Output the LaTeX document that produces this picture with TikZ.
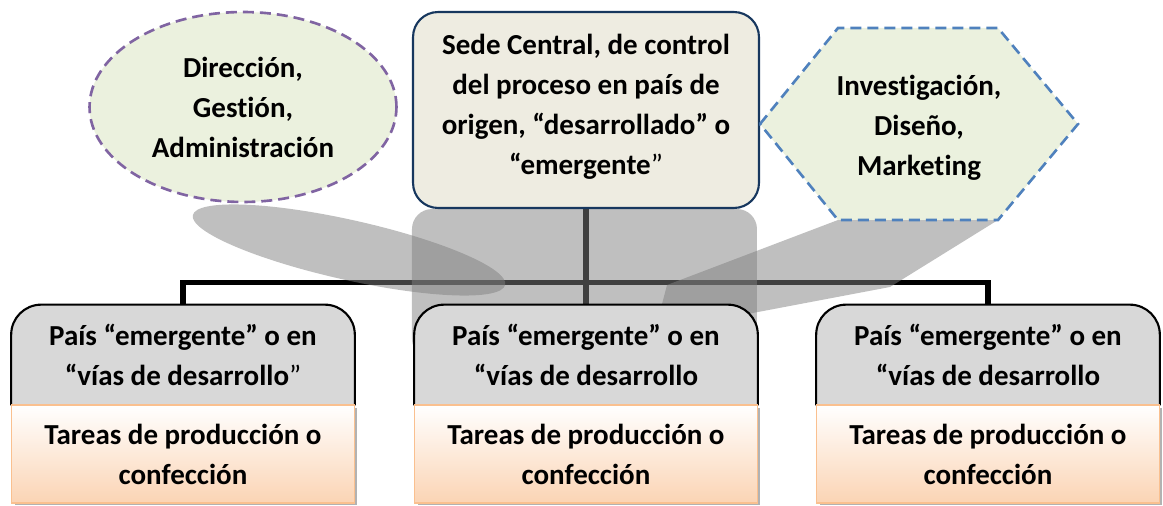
\documentclass[tikz,border=0pt]{standalone}
\usepackage{fontspec}
\setmainfont{Carlito}[Ligatures=NoCommon]
\usetikzlibrary{shapes.geometric,shadows}

\definecolor{verdeclaro}{RGB}{235,241,222}
\definecolor{morado}{RGB}{128,100,162}
\definecolor{azulhex}{RGB}{79,129,189}
\definecolor{beige}{RGB}{238,236,225}
\definecolor{azuloscuro}{RGB}{23,55,94}
\definecolor{grisclaro}{RGB}{216,216,216}
\definecolor{naranjaborde}{RGB}{250,192,143}
\definecolor{naranjafondo}{RGB}{251,212,180}

\pgfdeclarelayer{lineas}
\pgfdeclarelayer{sombras}
\pgfdeclarelayer{fondo}
\pgfsetlayers{lineas,sombras,fondo,main}

\begin{document}
\begin{tikzpicture}[x=0.02cm, y=-0.02cm,
        every node/.style={font=\bfseries\fontsize{16.5pt}{22.8pt}\selectfont, align=center},
        punteado/.style={dash pattern=on 0.22cm off 0.12cm, line width=1.5pt},
        sombra/.style={fill=black!50, fill opacity=0.5},
        linea/.style={line width=0.11cm, black},
        paisfondo/.style={draw=black, line width=1.2pt, fill=grisclaro},
        tarea/.style={rectangle, draw=naranjaborde, line width=1pt, top color=white, bottom color=naranjafondo,
            minimum width=6.86cm, minimum height=1.96cm,
            general shadow={fill=black!30, shadow xshift=0.06cm, shadow yshift=-0.05cm}}]
        \useasboundingbox (0,0) rectangle (1163,506);

        \node[ellipse, draw=morado, punteado, fill=verdeclaro, inner sep=0pt,
            minimum width=6.14cm, minimum height=3.8cm] (direccion) at (243,107) {Dirección,\\ Gestión,\\ Administración};
        \node[rectangle, rounded corners=0.5cm, draw=azuloscuro, line width=1.2pt, fill=beige,
            minimum width=6.92cm, minimum height=3.92cm] (sede) at (586,110)
            {Sede Central, de control\\ del proceso en país de\\ origen, “desarrollado” o\\ “emergente\textmd{”}\vspace{0.12cm}};

        \draw[draw=azulhex, punteado, fill=verdeclaro] (760,124) -- (838,28) -- (998,28) -- (1078,124) -- (998,220) -- (838,220) -- cycle;
        \node (invest) at (919,128) {Investigación,\\ Diseño,\\ Marketing};

        \foreach \i/\cx/\cierre in {1/183/{\textmd{”}}, 2/586/{}, 3/988/{}} {
            \node[minimum width=6.86cm, minimum height=2cm] (pais\i) at (\cx,355) {País “emergente” o en\\ “vías de desarrollo\cierre};
            \begin{pgfonlayer}{fondo}
                \draw[paisfondo] (pais\i.south west) [rounded corners=0.6cm] -- (pais\i.north west) -- (pais\i.north east) -- (pais\i.south east);
            \end{pgfonlayer}
            \node[tarea] (tarea\i) at (\cx,454) {Tareas de producción o\\ confección};
        }

        \begin{pgfonlayer}{lineas}
            \draw[linea] (sede.south) -- (pais2.north);
            \draw[linea] (pais1.north) -- ++(0,-22) -| (pais3.north);
        \end{pgfonlayer}

        \begin{pgfonlayer}{sombras}
            \fill[sombra, rounded corners=0.4cm] (sede.south west) rectangle ++(345,150);
            \fill[sombra, rotate around={-12.6:(349,250)}] (349,250) ellipse [x radius=160, y radius=30];
            \fill[sombra] (838,220) -- (998,220) -- (890,287) -- (700,323) -- (657,323) -- (667,285) -- cycle;
        \end{pgfonlayer}
\end{tikzpicture}
\end{document}
